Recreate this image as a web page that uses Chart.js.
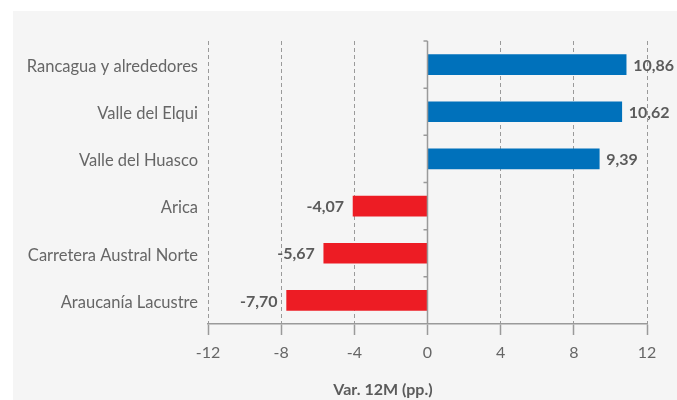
<!DOCTYPE html>
<html lang="es">
<head>
  <meta charset="UTF-8" />
  <title>Var. 12M por destino</title>
  <style>
    body {
      margin: 0;
      background: #ffffff;
      width: 677px;
      height: 400px;
      overflow: hidden;
      position: relative;
    }
    /* gray panel behind the chart */
    .panel {
      position: absolute;
      left: 13px;
      top: 11px;
      width: 664px;
      height: 389px;
      background: #f5f5f5;
    }
    canvas { display: block; }
  </style>
</head>
<body>
  <div class="panel">
    <canvas id="chart" width="664" height="389"></canvas>
  </div>

  <script src="https://cdn.jsdelivr.net/npm/chart.js"></script>
  <script>
    // Data
    const destinos = [
      'Rancagua y alrededores',
      'Valle del Elqui',
      'Valle del Huasco',
      'Arica',
      'Carretera Austral Norte',
      'Araucanía Lacustre'
    ];
    const variacion = [10.86, 10.62, 9.39, -4.07, -5.67, -7.70];
    const xTicks = [-12, -8, -4, 0, 4, 8, 12];

    const FONT = 'Lato, "Liberation Sans", sans-serif';
    const gridGray = '#9a9a9a';

    // value labels at the end of each bar, comma decimals
    const valueLabels = {
      id: 'valueLabels',
      afterDatasetsDraw(chart) {
        const ctx = chart.ctx;
        const meta = chart.getDatasetMeta(0);
        ctx.save();
        ctx.font = 'bold 16px ' + FONT;
        ctx.fillStyle = '#5b5b5b';
        ctx.textBaseline = 'middle';
        meta.data.forEach((bar, i) => {
          const v = variacion[i];
          const txt = v.toFixed(2).replace('.', ',');
          if (v >= 0) {
            ctx.textAlign = 'left';
            ctx.fillText(txt, bar.x + 7, bar.y + 1);
          } else {
            ctx.textAlign = 'right';
            ctx.fillText(txt, bar.x - 9, bar.y + 1);
          }
        });
        ctx.restore();
      }
    };

    // solid zero line with small ticks between categories
    const zeroAxis = {
      id: 'zeroAxis',
      afterDatasetsDraw(chart) {
        const {ctx, chartArea, scales} = chart;
        const x0 = scales.x.getPixelForValue(0);
        const n = destinos.length;
        const step = (chartArea.bottom - chartArea.top) / n;
        ctx.save();
        ctx.strokeStyle = gridGray;
        ctx.lineWidth = 1.5;
        ctx.beginPath();
        ctx.moveTo(x0, chartArea.top);
        ctx.lineTo(x0, chartArea.bottom);
        for (let i = 0; i < n; i++) {
          const y = chartArea.top + i * step;
          ctx.moveTo(x0, y);
          ctx.lineTo(x0 - 4, y);
        }
        ctx.stroke();
        ctx.restore();
      }
    };

    // the axis title in the original sits left of the plot centre
    const shiftTitle = {
      id: 'shiftTitle',
      afterLayout(chart) {
        if (chart.titleBlock) chart.titleBlock.left = 106;
      }
    };

    new Chart(document.getElementById('chart'), {
      type: 'bar',
      data: {
        labels: destinos,
        datasets: [{
          data: variacion,
          backgroundColor: variacion.map(v => v >= 0 ? '#0071bb' : '#ed1c24'),
          barThickness: 20,
          borderWidth: 0
        }]
      },
      options: {
        indexAxis: 'y',
        responsive: false,
        animation: false,
        layout: { padding: { left: 0, right: 30, top: 30, bottom: 0 } },
        plugins: {
          legend: { display: false },
          tooltip: { enabled: false },
          title: {
            display: true,
            position: 'bottom',
            text: 'Var. 12M (pp.)',
            color: '#5b5b5b',
            font: { family: FONT, size: 16, weight: 'bold' },
            padding: { top: 0, bottom: 1 }
          }
        },
        scales: {
          x: {
            min: xTicks[0],
            max: xTicks[xTicks.length - 1],
            afterBuildTicks(scale) {
              scale.ticks = xTicks.map(v => ({ value: v }));
            },
            afterFit(scale) { scale.height = 55.8; },
            grid: {
              color: gridGray,
              lineWidth: 1,
              tickLength: 11,
              tickColor: gridGray,
              tickWidth: 1.5,
              tickBorderDash: []
            },
            border: { display: true, color: gridGray, width: 1.5, dash: [4, 3] },
            ticks: {
              color: '#666666',
              padding: 8,
              font: { family: FONT, size: 16 },
              callback: v => String(v)
            }
          },
          y: {
            afterFit(scale) { scale.width = 195; },
            grid: { display: false, drawTicks: false },
            border: { display: false },
            ticks: {
              color: '#666666',
              padding: 10,
              labelOffset: 2,
              font: { family: FONT, size: 16.5 }
            }
          }
        }
      },
      plugins: [valueLabels, zeroAxis, shiftTitle]
    });
  </script>
</body>
</html>
